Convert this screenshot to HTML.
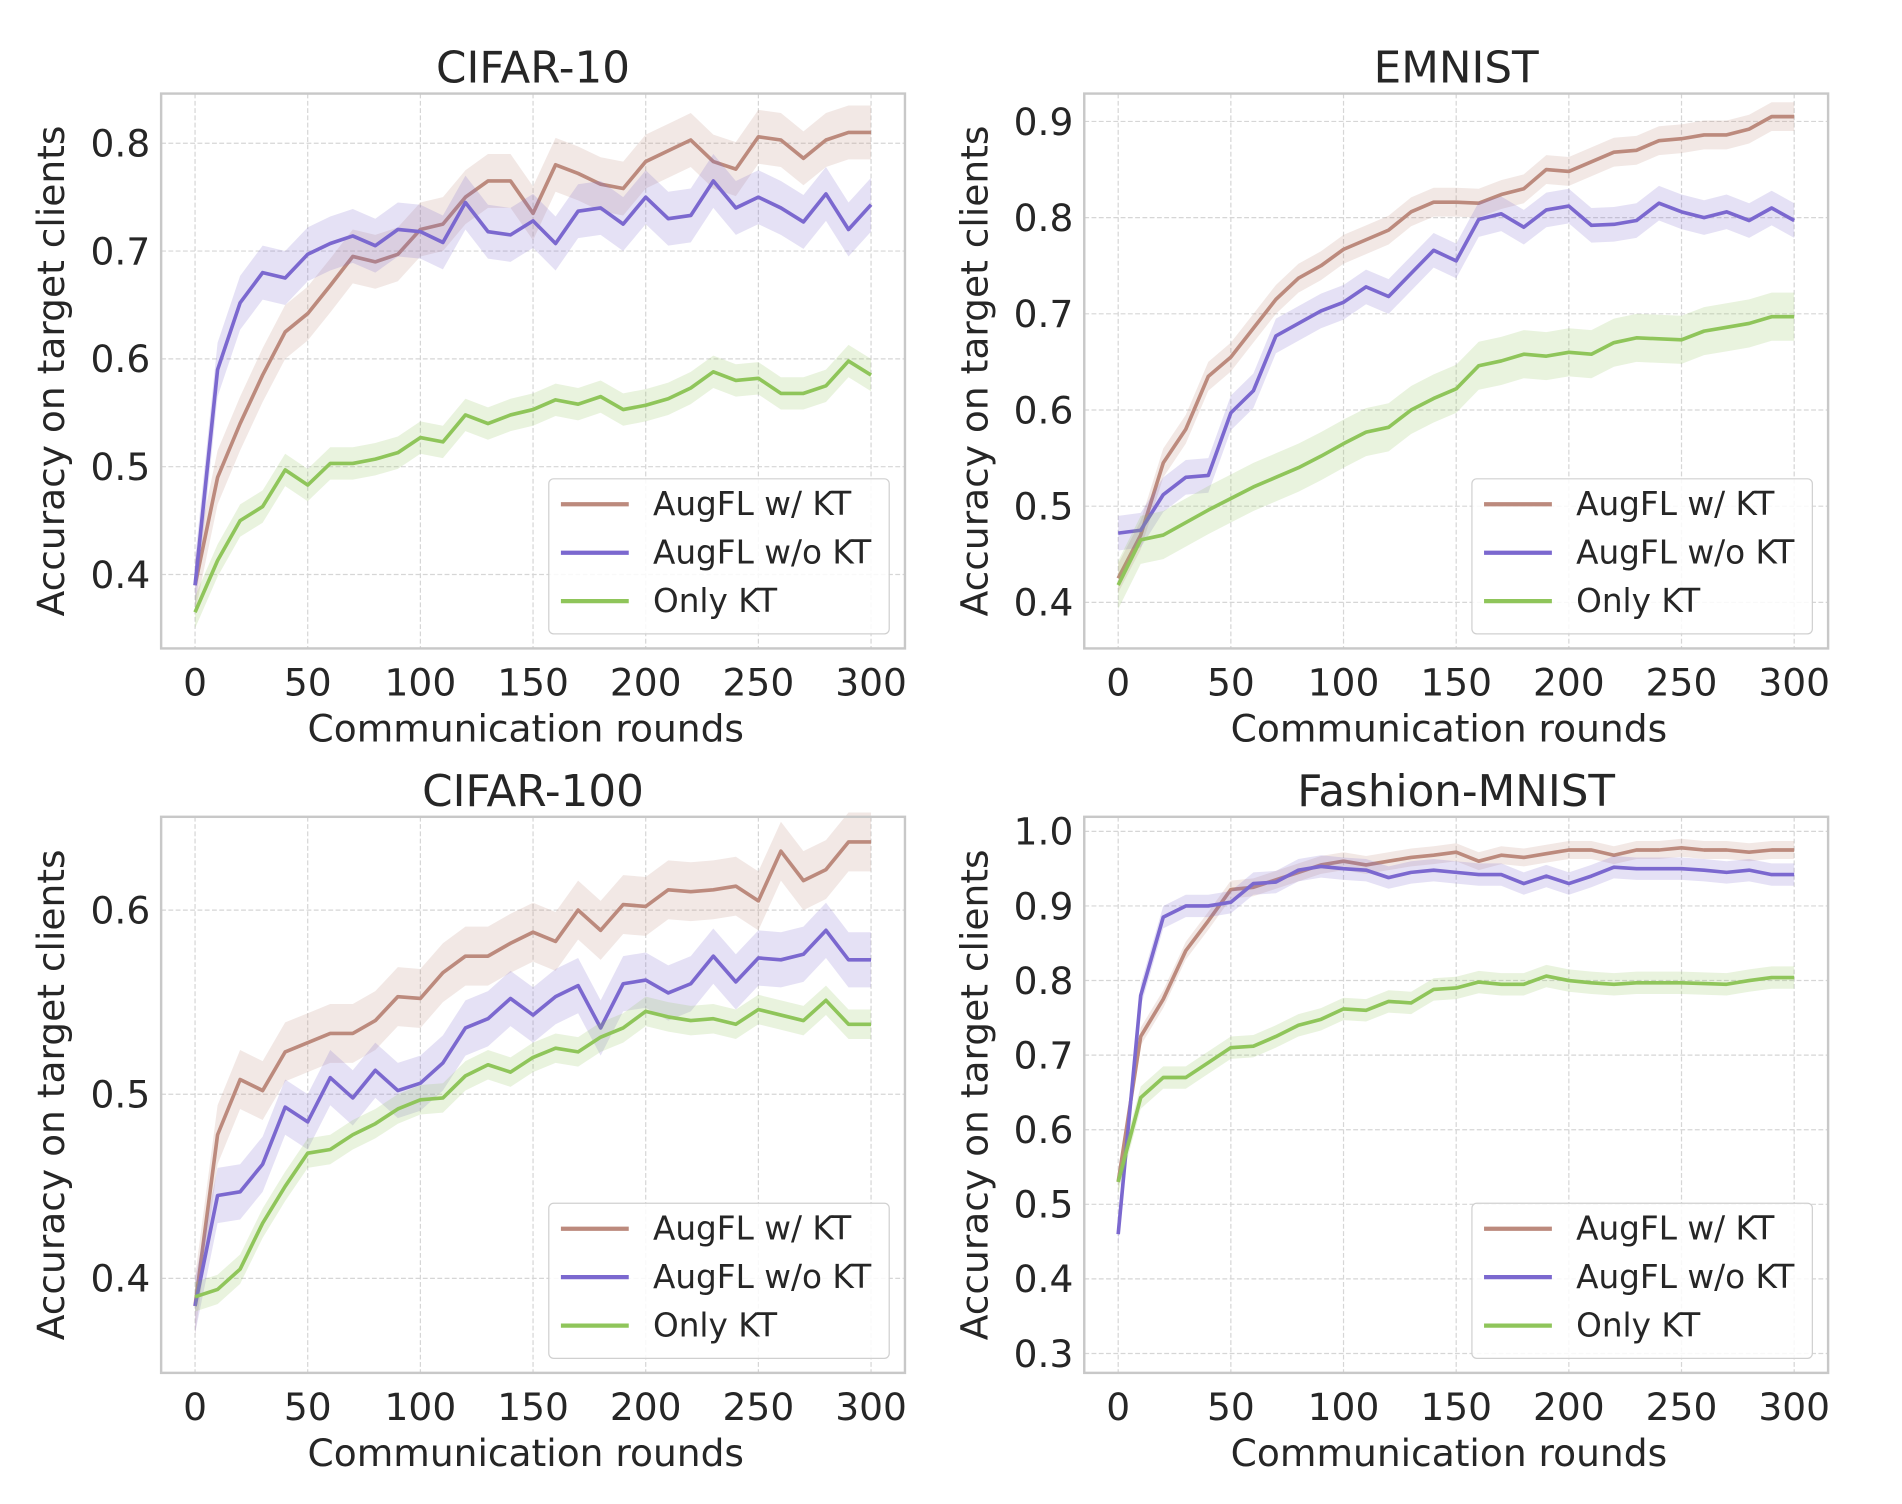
<!DOCTYPE html>
<html><head><meta charset="utf-8"><style>
html,body{margin:0;padding:0;background:#fff}
svg{display:block}
text{font-family:"DejaVu Sans","Liberation Sans",sans-serif;fill:#262626}
</style></head><body>
<svg id="fig" width="1902" height="1504" viewBox="-1 0 1570 1241" xmlns="http://www.w3.org/2000/svg"></svg>
<script>
const rounds = [0,10,20,30,40,50,60,70,80,90,100,110,120,130,140,150,160,170,180,190,200,210,220,230,240,250,260,270,280,290,300];
const xTicks = [0,50,100,150,200,250,300];
const seriesNames = ["AugFL w/ KT","AugFL w/o KT","Only KT"];
const c10Brown = [0.39,0.49,0.54,0.585,0.625,0.642,0.668,0.695,0.69,0.697,0.72,0.725,0.75,0.765,0.765,0.735,0.78,0.772,0.762,0.758,0.783,0.793,0.803,0.783,0.776,0.806,0.803,0.786,0.803,0.81,0.81];
const c10Purple = [0.39,0.59,0.652,0.68,0.675,0.697,0.707,0.714,0.705,0.72,0.718,0.708,0.745,0.718,0.715,0.728,0.707,0.737,0.74,0.725,0.75,0.73,0.733,0.765,0.74,0.75,0.74,0.727,0.753,0.72,0.743];
const c10Green = [0.365,0.413,0.45,0.463,0.497,0.483,0.503,0.503,0.507,0.513,0.527,0.523,0.548,0.54,0.548,0.553,0.562,0.558,0.565,0.553,0.557,0.563,0.573,0.588,0.58,0.582,0.568,0.568,0.575,0.598,0.585];
const emBrown = [0.425,0.47,0.545,0.58,0.635,0.655,0.685,0.715,0.737,0.75,0.767,0.777,0.787,0.806,0.816,0.816,0.815,0.824,0.83,0.85,0.848,0.858,0.868,0.87,0.88,0.882,0.886,0.886,0.892,0.905,0.905];
const emPurple = [0.472,0.475,0.512,0.53,0.532,0.597,0.62,0.677,0.69,0.703,0.712,0.728,0.718,0.742,0.766,0.755,0.798,0.804,0.79,0.808,0.812,0.792,0.793,0.797,0.815,0.806,0.8,0.806,0.797,0.81,0.797];
const emGreen = [0.418,0.465,0.47,0.483,0.496,0.508,0.52,0.53,0.54,0.552,0.565,0.577,0.582,0.6,0.612,0.622,0.646,0.651,0.658,0.656,0.66,0.658,0.67,0.675,0.674,0.673,0.682,0.686,0.69,0.697,0.697];
const c100Brown = [0.385,0.478,0.508,0.502,0.523,0.528,0.533,0.533,0.54,0.553,0.552,0.566,0.575,0.575,0.582,0.588,0.583,0.6,0.589,0.603,0.602,0.611,0.61,0.611,0.613,0.605,0.632,0.616,0.622,0.637,0.637];
const c100Purple = [0.385,0.445,0.447,0.462,0.493,0.485,0.509,0.498,0.513,0.502,0.506,0.517,0.536,0.541,0.552,0.543,0.553,0.559,0.536,0.56,0.562,0.555,0.56,0.575,0.561,0.574,0.573,0.576,0.589,0.573,0.573];
const c100Green = [0.39,0.394,0.405,0.43,0.45,0.468,0.47,0.478,0.484,0.492,0.497,0.498,0.51,0.516,0.512,0.52,0.525,0.523,0.531,0.536,0.545,0.542,0.54,0.541,0.538,0.546,0.543,0.54,0.551,0.538,0.538];
const fmBrown = [0.53,0.725,0.775,0.84,0.88,0.922,0.925,0.935,0.945,0.955,0.96,0.955,0.96,0.965,0.968,0.972,0.96,0.968,0.965,0.97,0.975,0.975,0.968,0.975,0.975,0.978,0.975,0.975,0.972,0.975,0.975];
const fmPurple = [0.46,0.78,0.885,0.9,0.9,0.905,0.93,0.932,0.948,0.953,0.95,0.948,0.938,0.945,0.948,0.945,0.942,0.942,0.93,0.94,0.93,0.94,0.952,0.95,0.95,0.95,0.948,0.945,0.948,0.942,0.942];
const fmGreen = [0.53,0.643,0.67,0.67,0.69,0.71,0.712,0.725,0.74,0.748,0.762,0.76,0.772,0.77,0.788,0.79,0.798,0.795,0.795,0.806,0.8,0.797,0.795,0.797,0.797,0.797,0.796,0.795,0.8,0.804,0.804];
const c10Ticks = [0.4,0.5,0.6,0.7,0.8];
const emTicks = [0.4,0.5,0.6,0.7,0.8,0.9];
const c100Ticks = [0.4,0.5,0.6];
const fmTicks = [0.3,0.4,0.5,0.6,0.7,0.8,0.9,1.0];

const colors = ["#bc8a7d","#7b68cf","#8fc55a"];
const NS = "http://www.w3.org/2000/svg";
const svg = document.getElementById("fig");
function mk(tag, attrs, parent){const e=document.createElementNS(NS,tag);for(const k in attrs)e.setAttribute(k,attrs[k]);(parent||svg).appendChild(e);return e;}

const panels = [
 {id:"cifar10",title:"CIFAR-10",box:[132,77,746,535],y0:0.4,py0:474,y1:0.8,py1:118,ticks:c10Ticks,data:[c10Brown,c10Purple,c10Green],band:[0.025,0.025,0.015]},
 {id:"emnist",title:"EMNIST",box:[894,77,1508,535],y0:0.4,py0:497,y1:0.9,py1:100,ticks:emTicks,data:[emBrown,emPurple,emGreen],band:[0.015,0.018,0.025]},
 {id:"cifar100",title:"CIFAR-100",box:[132,674,746,1133],y0:0.4,py0:1055,y1:0.6,py1:751,ticks:c100Ticks,data:[c100Brown,c100Purple,c100Green],band:[0.016,0.015,0.008]},
 {id:"fashion-mnist",title:"Fashion-MNIST",box:[894,674,1508,1133],y0:0.3,py0:1117,y1:1.0,py1:686,ticks:fmTicks,data:[fmBrown,fmPurple,fmGreen],band:[0.012,0.015,0.015]}
];

panels.forEach(p=>{
  const [L,T,R,B]=p.box;
  const g=mk("g",{});
  
  
  const xs=v=>L+28+(v/300)*558;
  const ys=v=>p.py0+(v-p.y0)*(p.py1-p.py0)/(p.y1-p.y0);
  xTicks.forEach(t=>{mk("line",{x1:xs(t),x2:xs(t),y1:T,y2:B,stroke:"#d6d6d6","stroke-width":1,"stroke-dasharray":"4,2"},g);
    const tx=mk("text",{x:xs(t),y:B+39,"text-anchor":"middle","font-size":31},g);tx.textContent=t;
    
    });
  p.ticks.forEach(t=>{mk("line",{x1:L,x2:R,y1:ys(t),y2:ys(t),stroke:"#d6d6d6","stroke-width":1,"stroke-dasharray":"4,2"},g);
    const tx=mk("text",{x:L-9,y:ys(t)+11,"text-anchor":"end","font-size":31},g);tx.textContent=t.toFixed(1);
    
    });
  p.data.forEach((d,i)=>{
    const up=d.map((v,j)=>xs(rounds[j])+","+ys(v+p.band[i]));
    const dn=d.map((v,j)=>xs(rounds[j])+","+ys(v-p.band[i])).reverse();
    const band=mk("polygon",{points:up.concat(dn).join(" "),fill:colors[i],"fill-opacity":0.2},g);
    
    
    const ln=mk("polyline",{points:d.map((v,j)=>xs(rounds[j])+","+ys(v)).join(" "),fill:"none",stroke:colors[i],"stroke-width":3,"stroke-linejoin":"round"},g);
    
    
  });
  const frame=mk("rect",{x:L,y:T,width:R-L,height:B-T,fill:"none",stroke:"#c8c8c8","stroke-width":2},g);
  
  
  const ti=mk("text",{x:(L+R)/2,y:T-9,"text-anchor":"middle","font-size":36},g);ti.textContent=p.title;
  
  
  const xl=mk("text",{x:(L+R)/2-6,y:B+77,"text-anchor":"middle","font-size":31},g);xl.textContent="Communication rounds";
  
  
  const yl=mk("text",{x:0,y:0,"text-anchor":"middle","font-size":31,transform:`translate(${L-80},${(T+B)/2}) rotate(-90)`},g);yl.textContent="Accuracy on target clients";
  
  
  const lx=R-294, ly=B-140;
  const lg=mk("g",{},g);
  
  
  mk("rect",{x:lx,y:ly,width:281,height:128,rx:4,fill:"#fff","fill-opacity":0.85,stroke:"#d0d0d0","stroke-width":1},lg);
  seriesNames.forEach((n,i)=>{
    const yy=ly+21+i*40;
    mk("line",{x1:lx+10,x2:lx+66,y1:yy,y2:yy,stroke:colors[i],"stroke-width":3.5},lg);
    const t=mk("text",{x:lx+86,y:yy+9,"font-size":27},lg);t.textContent=n;
    
    
  });
});
</script>
</body></html>
